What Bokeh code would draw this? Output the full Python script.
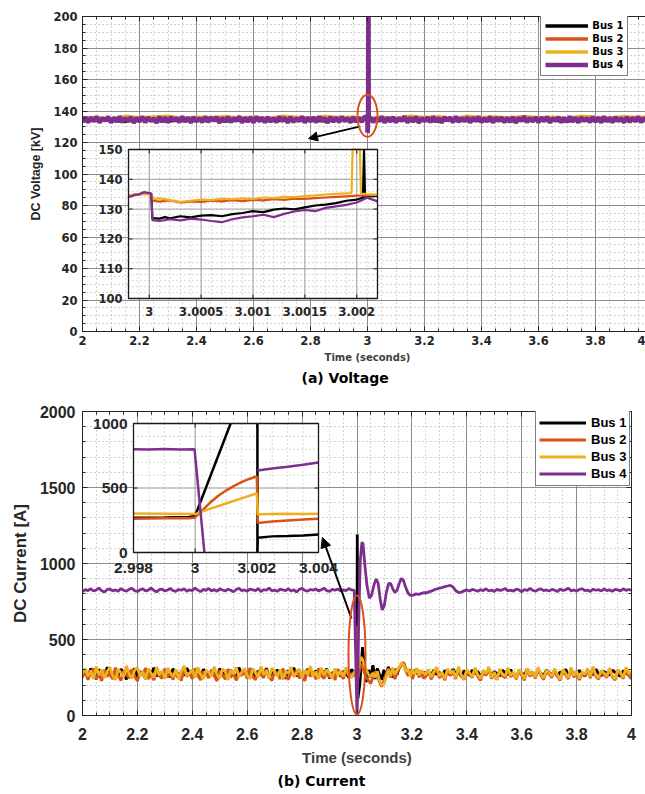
import numpy as np
from bokeh.plotting import figure
from bokeh.layouts import column
from bokeh.models import (Range1d, LinearAxis, Legend, LegendItem, Arrow, NormalHead, Title,
                          SingleIntervalTicker, CustomJSTickFormatter)
from bokeh.core.properties import value
from bokeh.embed import file_html
from bokeh.resources import INLINE

NAN = float("nan")
COLORS = ["#000000", "#D95319", "#EDB120", "#7E2F8E"]
BUS = ["Bus 1", "Bus 2", "Bus 3", "Bus 4"]

# ===================== (a) DC voltage [kV], main view =====================
va_pre_span = (2.00, 2.99)
va_post_span = (3.01, 4.00)
va4_pre = [133.0, 136.2, 132.8, 135.9, 133.4, 136.4, 132.6, 135.5, 133.9, 136.3,
           132.7, 135.8, 133.2, 136.5, 132.9, 135.6, 133.6, 136.1, 132.5, 135.7,
           133.3, 136.4, 132.8, 136.0, 133.5, 135.4, 132.6, 136.3, 133.1, 135.9,
           132.7, 136.2, 133.8, 135.6, 132.9, 136.5, 133.2, 135.8, 132.6, 136.1,
           133.4, 135.5, 132.8, 136.4, 133.0, 135.9, 133.7, 136.2, 132.5, 135.7,
           133.3, 136.3, 132.9, 135.6, 133.6, 136.5, 132.7, 135.8, 133.1, 136.0,
           132.6, 136.4, 133.5, 135.7, 132.8, 136.1, 133.2, 135.5, 132.9, 136.3,
           133.8, 135.9, 132.6, 136.2, 133.0, 135.6, 133.4, 136.5, 132.7, 135.8,
           133.3, 136.0, 132.8, 136.4, 133.6, 135.7, 132.5, 136.2, 133.1, 135.9,
           132.9, 136.3, 133.5, 135.5, 132.7, 136.1, 133.2, 135.8, 133.0, 136.4]
va4_ev_t = [2.9999, 3.00003, 3.0005, 3.001, 3.0015, 3.002, 3.003, 3.0045, 3.006]
va4_ev = [135.7, 126.3, 126.5, 127.6, 129.7, 132.2, 260.0, 133.5, 134.6]
va4_post = [136.1, 132.9, 135.7, 133.4, 136.4, 132.6, 135.9, 133.2, 136.2, 132.8,
            135.5, 133.7, 136.5, 132.7, 135.8, 133.1, 136.3, 132.5, 135.6, 133.5,
            136.0, 132.9, 136.4, 133.3, 135.7, 132.6, 136.2, 133.8, 135.9, 132.8,
            136.5, 133.0, 135.6, 133.4, 136.1, 132.7, 135.8, 133.6, 136.3, 132.9,
            135.5, 133.2, 136.4, 132.6, 135.9, 133.5, 136.0, 132.8, 135.7, 133.1,
            136.2, 132.5, 135.8, 133.7, 136.5, 132.9, 135.6, 133.3, 136.1, 132.7,
            135.9, 133.4, 136.3, 132.6, 135.5, 133.8, 136.2, 132.8, 135.7, 133.0,
            136.4, 133.2, 135.8, 132.7, 136.0, 133.6, 135.6, 132.9, 136.3, 133.1,
            135.9, 132.6, 136.5, 133.4, 135.7, 132.8, 136.1, 133.5, 135.5, 132.7,
            136.2, 133.0, 135.8, 133.3, 136.4, 132.9, 135.6, 133.2, 136.0, 133.4]

vac_pre_span = (2.00, 2.95)
vac_post_span = (3.05, 4.00)
va1_pre = [133.8, 134.6, 134.1, 133.5, 134.9, 134.2, 133.7, 134.5, 134.0, 134.8,
           133.6, 134.3, 135.0, 134.1, 133.9, 134.6, 134.2, 133.8, 134.7, 134.3]
va1_ev_t = [2.9999, 3.00003, 3.001, 3.002, 3.00207, 3.0022, 3.01]
va1_ev = [135.2, 127.0, 129.3, 133.2, 150.0, 134.4, 134.2]
va1_post = [134.4, 133.9, 134.7, 134.1, 133.6, 134.8, 134.2, 134.0, 134.6, 133.8,
            134.3, 134.9, 134.1, 133.7, 134.5, 134.2, 133.9, 134.7, 134.3, 134.0]
va2_pre = [134.6, 135.2, 134.3, 135.5, 134.8, 134.1, 135.3, 134.7, 135.6, 134.4,
           135.0, 134.6, 135.4, 134.2, 135.1, 134.9, 135.7, 134.5, 135.0, 134.8]
va2_ev_t = [2.9999, 3.00004, 3.001, 3.002, 3.0022, 3.01]
va2_ev = [135.1, 132.8, 133.1, 134.5, 134.8, 134.7]
va2_post = [135.2, 134.6, 135.5, 134.3, 135.0, 134.8, 135.6, 134.4, 135.1, 134.7,
            135.4, 134.5, 135.2, 134.9, 135.7, 134.3, 135.0, 134.6, 135.3, 134.8]
va3_pre = [135.4, 136.0, 135.0, 136.6, 135.7, 136.2, 136.7, 135.3, 136.1, 135.8,
           136.4, 135.5, 136.2, 135.2, 136.6, 136.0, 135.6, 136.5, 135.9, 136.1]
va3_ev_t = [2.9999, 3.00004, 3.001, 3.00196, 3.00203, 3.0022, 3.01]
va3_ev = [135.2, 133.4, 133.4, 150.0, 150.0, 134.8, 135.0]
va3_post = [136.1, 135.4, 136.6, 135.8, 136.3, 135.1, 136.7, 135.9, 136.2, 135.5,
            136.5, 135.7, 136.1, 135.3, 136.6, 136.0, 135.6, 136.4, 135.8, 136.2]

# ===================== (a) inset: zoom 2.9998 .. 3.0022 s =====================
ia_x_range = (2.9998, 3.0022)
ia_y_range = (100, 150)
ia_xticks = [3.0, 3.0005, 3.001, 3.0015, 3.002]
ia_xlabels = ["3", "3.0005", "3.001", "3.0015", "3.002"]
ia_yticks = [100, 110, 120, 130, 140, 150]
ia_ylabels = ["100", "110", "120", "130", "140", "150"]
ia1_t = [2.9998, 2.99985, 2.9999, 2.99995, 3.00002, 3.00003, 3.0001, 3.00015, 3.0002,
         3.0003, 3.0004, 3.0005, 3.0006, 3.0007, 3.0008, 3.0009, 3.001, 3.0011, 3.0012,
         3.0013, 3.0014, 3.0015, 3.0016, 3.0017, 3.0018, 3.0019, 3.002,
         3.00206, 3.00207, 3.00208, 3.0021, 3.0022]
ia1_v = [134.4, 134.8, 135.0, 135.2, 135.1, 127.0, 126.8, 127.3, 126.9,
         127.6, 127.2, 127.8, 128.0, 127.6, 128.3, 128.7, 129.3, 129.0, 129.8,
         130.2, 129.9, 130.6, 131.2, 131.5, 132.0, 132.8, 133.2,
         133.8, 150.0, 134.0, 134.2, 134.4]
ia2_t = [2.9998, 2.9999, 2.99995, 3.00002, 3.00004, 3.0001, 3.0002, 3.0003, 3.0004,
         3.0005, 3.0006, 3.0007, 3.0008, 3.0009, 3.001, 3.0011, 3.0012, 3.0013, 3.0014,
         3.0015, 3.0016, 3.0017, 3.0018, 3.0019, 3.002, 3.0021, 3.0022]
ia2_v = [134.5, 134.9, 135.1, 135.0, 132.8, 132.5, 132.9, 132.2, 132.6,
         132.4, 132.8, 132.6, 133.0, 132.7, 133.1, 132.9, 133.3, 133.1, 133.5,
         133.4, 133.7, 133.9, 134.1, 134.3, 134.5, 134.6, 134.8]
ia3_t = [2.9998, 2.9999, 2.99995, 3.00002, 3.00004, 3.0001, 3.0002, 3.0003, 3.0004,
         3.0005, 3.0006, 3.0007, 3.0008, 3.0009, 3.001, 3.0011, 3.0012, 3.0013, 3.0014,
         3.0015, 3.0016, 3.0017, 3.0018, 3.0019, 3.00195, 3.00196, 3.00203, 3.00204,
         3.0021, 3.0022]
ia3_v = [134.6, 135.0, 135.2, 135.1, 133.4, 133.6, 133.0, 132.4, 132.8,
         133.2, 133.0, 133.5, 133.3, 133.6, 133.4, 133.9, 133.7, 134.1, 134.0,
         134.4, 134.6, 134.9, 135.1, 135.3, 135.4, 150.0, 150.0, 135.2,
         135.0, 134.8]
ia4_t = [2.9998, 2.99985, 2.9999, 2.99995, 3.00002, 3.00003, 3.0001, 3.0002, 3.0003,
         3.0004, 3.0005, 3.0006, 3.0007, 3.0008, 3.0009, 3.001, 3.0011, 3.0012, 3.0013,
         3.0014, 3.0015, 3.0016, 3.0017, 3.0018, 3.0019, 3.002, 3.0021, 3.0022]
ia4_v = [134.0, 134.6, 135.0, 135.7, 135.2, 126.3, 126.0, 126.6, 126.2,
         126.8, 126.5, 126.0, 125.6, 126.6, 127.2, 127.6, 128.1, 127.3, 128.4,
         129.2, 129.7, 129.3, 130.4, 130.9, 131.4, 132.2, 133.8, 132.6]

# ===================== (b) DC current [A], main view =====================
cb_pre_span = (2.00, 2.99)
cb_post_span = (3.25, 4.00)
cb4_pre = [815, 828, 822, 834, 819, 826, 838, 821, 813, 829,
           832, 820, 826, 817, 835, 824, 818, 830, 837, 822,
           816, 827, 833, 820, 825, 839, 823, 814, 828, 831,
           819, 826, 836, 821, 817, 829, 824, 834, 818, 827,
           822, 838, 825, 815, 830, 823, 836, 820, 828, 817,
           833, 826, 819, 831, 824, 814, 829, 837, 822, 826,
           818, 832, 827, 821, 835, 816, 828, 824, 839, 820,
           825, 817, 831, 826, 822, 834, 819, 827, 813, 830,
           836, 823, 818, 829, 825, 832, 820, 827, 838, 821,
           816, 830, 824, 833, 819, 827, 822, 835, 826, 824]
cb4_ev_t = [3.000, 3.002, 3.006, 3.012, 3.018, 3.022, 3.028, 3.036, 3.045, 3.053,
            3.062, 3.070, 3.077, 3.085, 3.092, 3.099, 3.107, 3.115, 3.122, 3.130,
            3.138, 3.146, 3.154, 3.162, 3.169, 3.177, 3.186, 3.195, 3.205, 3.215,
            3.225, 3.235, 3.245]
cb4_ev = [0, 120, 600, 1020, 1140, 1130, 1000, 860, 772, 790,
          860, 898, 870, 760, 695, 720, 810, 868, 870, 835,
          808, 825, 870, 902, 890, 845, 805, 790, 792, 800,
          797, 803, 808]
cb4_post = [805, 812, 818, 826, 832, 838, 842, 848, 852, 856,
            845, 822, 808, 812, 820, 826, 819, 830, 824, 817,
            828, 821, 834, 819, 826, 816, 830, 823, 827, 835,
            820, 825, 818, 831, 826, 814, 829, 822, 836, 824,
            817, 828, 833, 821, 826, 819, 830, 825, 815, 832,
            823, 827, 838, 820, 826, 818, 829, 834, 821, 825,
            816, 831, 824, 828, 819, 833, 822, 827, 817, 830,
            826, 820, 834, 823, 829, 824]

cb1_pre = [260, 295, 248, 310, 272, 240, 302, 285, 255, 318,
           270, 245, 298, 262, 305, 280, 238, 292, 268, 310,
           250, 288, 275, 242, 300, 265, 315, 258, 283, 246,
           296, 270, 254, 308, 276, 244, 290, 263, 312, 279,
           251, 298, 266, 241, 304, 284, 259, 293, 271, 247,
           309, 262, 287, 254, 299, 276, 243, 316, 268, 290,
           257, 282, 305, 249, 294, 272, 261, 311, 246, 286,
           269, 301, 255, 280, 243, 297, 274, 314, 258, 289,
           266, 248, 306, 279, 261, 295, 252, 287, 273, 308,
           245, 284, 267, 300, 256, 291, 276, 250, 303, 280]
cb1_ev_t = [3.000, 3.001, 3.003, 3.010, 3.020, 3.027, 3.034, 3.042, 3.050, 3.058,
            3.066, 3.074, 3.082, 3.090, 3.098, 3.106, 3.114, 3.122, 3.130, 3.138,
            3.146, 3.154, 3.162, 3.170, 3.178, 3.186, 3.194, 3.202, 3.210, 3.218,
            3.226, 3.234, 3.242]
cb1_ev = [280, 1190, 110, 200, 450, 330, 220, 300, 250, 330,
          240, 310, 270, 235, 300, 260, 320, 280, 250, 305,
          270, 315, 330, 345, 300, 270, 295, 255, 300, 275,
          290, 265, 285]
cb1_post = [275, 290, 262, 301, 270, 285, 258, 296, 279, 267,
            305, 272, 288, 256, 294, 281, 264, 299, 276, 290,
            260, 284, 271, 303, 266, 289, 277, 259, 297, 282,
            268, 301, 274, 255, 292, 280, 266, 306, 271, 287,
            258, 295, 278, 263, 300, 284, 269, 291, 257, 286,
            275, 304, 262, 289, 280, 266, 298, 273, 259, 293,
            282, 268, 305, 276, 261, 290, 279, 266, 299, 284,
            271, 258, 294, 281, 267, 288]

cb23_ev_t = [3.000, 3.002, 3.0022, 3.008, 3.014, 3.020, 3.027, 3.034, 3.042, 3.050,
             3.058, 3.066, 3.074, 3.082, 3.090, 3.098, 3.106, 3.114, 3.122, 3.130,
             3.138, 3.146, 3.154, 3.162, 3.170, 3.178, 3.186, 3.194, 3.202, 3.210,
             3.218, 3.226, 3.234, 3.242]
cb2_pre = [250, 292, 235, 278, 310, 242, 268, 228, 300, 255,
           284, 238, 315, 262, 230, 296, 270, 245, 305, 258,
           226, 288, 266, 312, 240, 275, 232, 298, 260, 244,
           308, 252, 282, 236, 294, 268, 229, 303, 256, 280,
           241, 310, 264, 233, 290, 272, 247, 301, 259, 227,
           295, 266, 238, 306, 250, 284, 231, 276, 262, 299,
           243, 313, 257, 235, 287, 269, 248, 304, 254, 230,
           292, 275, 240, 309, 261, 236, 285, 266, 298, 245,
           270, 228, 301, 256, 289, 238, 311, 263, 244, 294,
           251, 280, 234, 306, 267, 242, 297, 258, 276, 262]
cb2_ev = [265, 590, 230, 290, 340, 320, 280, 250, 230, 210,
          250, 290, 260, 220, 190, 230, 270, 310, 250, 290,
          240, 280, 310, 335, 350, 300, 260, 305, 240, 285,
          310, 250, 295, 245]
cb2_post = [255, 290, 238, 276, 305, 247, 270, 232, 298, 262,
            284, 240, 310, 258, 236, 292, 268, 249, 302, 256,
            230, 286, 264, 307, 243, 274, 235, 296, 261, 248,
            303, 253, 280, 239, 291, 266, 232, 300, 257, 278,
            244, 306, 263, 236, 288, 271, 250, 299, 259, 231,
            293, 267, 241, 304, 252, 282, 234, 277, 260, 297,
            246, 309, 256, 238, 285, 268, 249, 301, 255, 233,
            290, 273, 242, 305, 262, 240]
cb3_pre = [275, 310, 258, 296, 240, 322, 268, 301, 247, 289,
           318, 262, 236, 305, 280, 252, 327, 271, 244, 298,
           315, 259, 286, 238, 309, 276, 250, 320, 265, 293,
           242, 312, 281, 255, 303, 237, 290, 326, 261, 278,
           300, 249, 316, 272, 239, 295, 283, 257, 321, 266,
           246, 308, 288, 234, 299, 274, 318, 254, 285, 311,
           263, 241, 306, 279, 251, 324, 268, 296, 245, 313,
           287, 258, 302, 236, 292, 276, 319, 253, 281, 307,
           248, 297, 270, 325, 256, 288, 240, 314, 266, 301,
           279, 243, 310, 262, 293, 257, 317, 272, 248, 285]
cb3_ev = [300, 460, 300, 340, 385, 370, 330, 300, 270, 255,
          280, 250, 290, 230, 200, 205, 250, 300, 260, 315,
          270, 300, 320, 345, 330, 290, 305, 260, 300, 270,
          310, 265, 295, 280]
cb3_post = [270, 305, 252, 291, 318, 260, 283, 240, 309, 275,
            296, 248, 322, 266, 238, 301, 280, 255, 314, 269,
            243, 297, 276, 320, 250, 286, 236, 307, 271, 259,
            315, 262, 290, 245, 303, 278, 240, 311, 266, 288,
            252, 318, 274, 246, 299, 283, 258, 308, 269, 237,
            304, 277, 249, 316, 261, 292, 243, 287, 272, 310,
            255, 321, 265, 247, 296, 280, 258, 312, 264, 241,
            302, 284, 250, 317, 273, 289]

# ===================== (b) inset: zoom 2.998 .. 3.004 s =====================
ib_x_range = (2.998, 3.004)
ib_y_range = (0, 1000)
ib_xticks = [2.998, 3.0, 3.002, 3.004]
ib_xlabels = ["2.998", "3", "3.002", "3.004"]
ib_yticks = [0, 500, 1000]
ib_ylabels = ["0", "500", "1000"]
ib1_t = [2.998, 2.999, 2.9998, 3.0, 3.00115, NAN, 3.00202, 3.00202, 3.00203, 3.0025, 3.003, 3.0035, 3.004]
ib1_v = [270, 272, 275, 285, 1000, NAN, 1000, 0, 115, 125, 128, 132, 140]
ib2_t = [2.998, 2.999, 2.9998, 3.0, 3.00025, 3.0005, 3.00075, 3.001, 3.00125, 3.0015, 3.00175,
         3.002, 3.00203, 3.0025, 3.003, 3.0035, 3.004]
ib2_v = [262, 265, 266, 272, 330, 390, 440, 480, 515, 545, 570, 590, 228, 240, 248, 255, 262]
ib3_t = [2.998, 2.999, 3.0, 3.0005, 3.001, 3.0015, 3.002, 3.00203, 3.0025, 3.003, 3.0035, 3.004]
ib3_v = [302, 300, 298, 340, 380, 420, 458, 296, 298, 300, 299, 300]
ib4_t = [2.998, 2.9985, 2.999, 2.9995, 2.99998, 3.0003, NAN, 3.00202, 3.0025, 3.003, 3.0035, 3.004]
ib4_v = [800, 798, 802, 799, 800, 0, NAN, 636, 652, 665, 680, 698]

# ===================== annotation marks (zoom ellipse + arrow) =====================
A_ELLIPSE = dict(x=3.0, y=137.0, w=20, h=42)
A_ARROW = dict(x0=2.975, y0=130.2, x1=2.793, y1=122.5)
B_ELLIPSE = dict(x=3.0, y=398.0, w=17, h=119)
B_ARROW = dict(x0=2.980, y0=638.0, x1=2.874, y1=1171.0)

TXT = "#262626"
FMT = "return String(Math.round(tick*10000)/10000);"


def join(pre, pre_span, ev_t, ev_v, post, post_span):
    t = np.concatenate([np.linspace(pre_span[0], pre_span[1], len(pre)), ev_t,
                        np.linspace(post_span[0], post_span[1], len(post))])
    v = np.concatenate([pre, ev_v, post])
    return t, v


def inset_range(lo, hi, f0, f1):
    span = (hi - lo) / (f1 - f0)
    start = lo - f0 * span
    return Range1d(start, start + span)


def make_fig(fw, fh, xr, yr, borders, xt, yt, tick_font, tick_size):
    l, r, t, b = borders
    p = figure(frame_width=fw, frame_height=fh, x_range=Range1d(*xr), y_range=Range1d(*yr),
               min_border_left=l, min_border_right=r, min_border_top=t, min_border_bottom=b,
               output_backend="svg", toolbar_location=None)
    xa = p.below[0]
    ya = p.left[0]
    xtk = SingleIntervalTicker(interval=xt[0], num_minor_ticks=xt[1])
    ytk = SingleIntervalTicker(interval=yt[0], num_minor_ticks=yt[1])
    xa.ticker = xtk
    ya.ticker = ytk
    p.xgrid.ticker = xtk
    p.ygrid.ticker = ytk
    xa.formatter = CustomJSTickFormatter(code=FMT)
    ya.formatter = CustomJSTickFormatter(code=FMT)
    p.add_layout(LinearAxis(ticker=ytk, formatter=CustomJSTickFormatter(code="return '';")), "right")
    p.add_layout(LinearAxis(ticker=xtk, formatter=CustomJSTickFormatter(code="return '';")), "above")
    for ax in p.axis:
        ax.major_tick_in = 5
        ax.major_tick_out = 0
        ax.minor_tick_in = 3
        ax.minor_tick_out = 0
        ax.axis_line_color = TXT
        ax.major_tick_line_color = TXT
        ax.minor_tick_line_color = TXT
        ax.major_label_text_font = tick_font
        ax.major_label_text_font_style = "bold"
        ax.major_label_text_font_size = tick_size
        ax.major_label_text_color = TXT
    p.outline_line_color = None
    p.grid.grid_line_color = "#8c8c8c"
    p.grid.grid_line_width = 1
    p.grid.minor_grid_line_color = "#a8a8a8"
    p.grid.minor_grid_line_dash = "1 3"
    p.background_fill_color = "white"
    p.border_fill_color = "white"
    return p, xa, ya


def draw_inset(p, xr, yr, xmaj, ymaj, xmin_step, ymin_step, xticks, xlabels, yticks, ylabels,
               font, size, xlab_off, ylab_off, series, lw, box_px):
    kw = dict(x_range_name="inx", y_range_name="iny", level="overlay")
    p.quad(left=[xr[0]], right=[xr[1]], bottom=[yr[0]], top=[yr[1]], fill_color="white",
           line_color=None, **kw)
    xm = np.arange(xr[0], xr[1] + xmin_step / 2, xmin_step)
    ym = np.arange(yr[0], yr[1] + ymin_step / 2, ymin_step)
    p.segment(x0=xm, y0=yr[0], x1=xm, y1=yr[1], line_color="#b4b4b4", line_dash="1 3", **kw)
    p.segment(x0=xr[0], y0=ym, x1=xr[1], y1=ym, line_color="#b4b4b4", line_dash="1 3", **kw)
    p.segment(x0=xmaj, y0=yr[0], x1=xmaj, y1=yr[1], line_color="#a0a0a0", line_width=1, **kw)
    p.segment(x0=xr[0], y0=ymaj, x1=xr[1], y1=ymaj, line_color="#a0a0a0", line_width=1, **kw)
    # short inward tick marks on the inset box (4 px)
    tx = 4 * (xr[1] - xr[0]) / box_px[0]
    ty = 4 * (yr[1] - yr[0]) / box_px[1]
    p.segment(x0=xticks, y0=yr[0], x1=xticks, y1=yr[0] + ty, line_color="#1a1a1a", **kw)
    p.segment(x0=xticks, y0=yr[1], x1=xticks, y1=yr[1] - ty, line_color="#1a1a1a", **kw)
    p.segment(x0=xr[0], y0=yticks, x1=xr[0] + tx, y1=yticks, line_color="#1a1a1a", **kw)
    p.segment(x0=xr[1], y0=yticks, x1=xr[1] - tx, y1=yticks, line_color="#1a1a1a", **kw)
    for (t, v), c in zip(series, COLORS):
        p.line(t, v, line_color=c, line_width=lw, **kw)
    p.quad(left=[xr[0]], right=[xr[1]], bottom=[yr[0]], top=[yr[1]], fill_color=None,
           line_color="#1a1a1a", line_width=1.3, **kw)
    p.text(x=xticks, y=[yr[0]] * len(xticks), text=xlabels, text_font=value(font),
           text_font_style="bold", text_font_size=size, text_color=TXT, text_align="center",
           text_baseline="top", y_offset=xlab_off, **kw)
    p.text(x=[xr[0]] * len(yticks), y=yticks, text=ylabels, text_font=value(font),
           text_font_style="bold", text_font_size=size, text_color=TXT, text_align="right",
           text_baseline="middle", x_offset=ylab_off, **kw)


# ------------------------------ figure (a) ------------------------------
pa, pa_x, pa_y = make_fig(570, 315, (2, 4), (0, 200), (62, 13, 16, 61), (0.2, 4), (20, 4),
                          "DejaVu Sans", "11.5px")
pa_x.axis_label = "Time (seconds)"
pa_x.axis_label_text_font = "DejaVu Sans"
pa_x.axis_label_text_font_size = "10px"
pa_x.axis_label_text_font_style = "bold"
pa_x.axis_label_text_color = "#404040"
pa_x.major_label_standoff = 4
pa_x.axis_label_standoff = 4
pa_y.axis_label = "DC Voltage [kV]"
pa_y.axis_label_text_font = "Liberation Sans"
pa_y.axis_label_text_font_size = "12.5px"
pa_y.axis_label_text_font_style = "bold"
pa_y.axis_label_text_color = TXT
pa_y.major_label_standoff = 5
pa_y.axis_label_standoff = 7

ra = []
for pre, evt, ev, post, c in [(va1_pre, va1_ev_t, va1_ev, va1_post, COLORS[0]),
                              (va2_pre, va2_ev_t, va2_ev, va2_post, COLORS[1]),
                              (va3_pre, va3_ev_t, va3_ev, va3_post, COLORS[2])]:
    t, v = join(pre, vac_pre_span, evt, ev, post, vac_post_span)
    ra.append(pa.line(t, v, line_color=c, line_width=3.5))
t4, v4 = join(va4_pre, va_pre_span, va4_ev_t, va4_ev, va4_post, va_post_span)
ra.append(pa.line(t4, v4, line_color=COLORS[3], line_width=4.5))

pa.extra_x_ranges = {"inx": inset_range(*ia_x_range, 46 / 570, 295 / 570)}
pa.extra_y_ranges = {"iny": inset_range(*ia_y_range, 33 / 315, 182 / 315)}
draw_inset(pa, ia_x_range, ia_y_range, ia_xticks, ia_yticks[1:-1], 0.0001, 2,
           ia_xticks, ia_xlabels, ia_yticks, ia_ylabels, "DejaVu Sans", "11.5px", 8, -6,
           [(ia1_t, ia1_v), (ia2_t, ia2_v), (ia3_t, ia3_v), (ia4_t, ia4_v)], 2.2, (249, 149))

pa.ellipse(x=[A_ELLIPSE["x"]], y=[A_ELLIPSE["y"]], width=A_ELLIPSE["w"], height=A_ELLIPSE["h"],
           width_units="screen", height_units="screen", fill_color=None,
           line_color=COLORS[1], line_width=2, level="overlay")
pa.add_layout(Arrow(end=NormalHead(size=9, fill_color="black", line_color="black"),
                    x_start=A_ARROW["x0"], y_start=A_ARROW["y0"],
                    x_end=A_ARROW["x1"], y_end=A_ARROW["y1"], line_color="black", line_width=1.8))

leg_a = Legend(items=[LegendItem(label=n, renderers=[r]) for n, r in zip(BUS, ra)],
               location=(478, 255), label_text_font="DejaVu Sans", label_text_font_style="bold",
               label_text_font_size="10px", label_text_color="black", glyph_width=43,
               glyph_height=13, label_height=13, label_standoff=4, spacing=0, padding=4,
               margin=0, border_line_color="black", border_line_width=1.5,
               background_fill_alpha=1.0)
pa.add_layout(leg_a)
pa.add_layout(Title(text="(a) Voltage", align="left", offset=219, text_font="DejaVu Sans",
                    text_font_size="14px", text_font_style="bold", text_color="black",
                    standoff=4), "below")

# ------------------------------ figure (b) ------------------------------
pb, pb_x, pb_y = make_fig(549, 304, (2, 4), (0, 2000), (82, 14, 19, 79), (0.2, 4), (500, 5),
                          "Liberation Sans", "16px")
pb_x.axis_label = "Time (seconds)"
pb_x.axis_label_text_font = "Liberation Sans"
pb_x.axis_label_text_font_size = "15px"
pb_x.axis_label_text_font_style = "bold"
pb_x.axis_label_text_color = "#404040"
pb_x.major_label_standoff = 12
pb_x.axis_label_standoff = 6
pb_y.axis_label = "DC Current [A]"
pb_y.axis_label_text_font = "Liberation Sans"
pb_y.axis_label_text_font_size = "17px"
pb_y.axis_label_text_font_style = "bold"
pb_y.axis_label_text_color = TXT
pb_y.major_label_standoff = 7
pb_y.axis_label_standoff = 7

rb = []
for pre, evt, ev, post, c in [(cb1_pre, cb1_ev_t, cb1_ev, cb1_post, COLORS[0]),
                              (cb2_pre, cb23_ev_t, cb2_ev, cb2_post, COLORS[1]),
                              (cb3_pre, cb23_ev_t, cb3_ev, cb3_post, COLORS[2]),
                              (cb4_pre, cb4_ev_t, cb4_ev, cb4_post, COLORS[3])]:
    t, v = join(pre, cb_pre_span, evt, ev, post, cb_post_span)
    rb.append(pb.line(t, v, line_color=c, line_width=2.8))

pb.extra_x_ranges = {"inx": inset_range(*ib_x_range, 51 / 549, 236 / 549)}
pb.extra_y_ranges = {"iny": inset_range(*ib_y_range, 163 / 304, 292 / 304)}
draw_inset(pb, ib_x_range, ib_y_range, [3.0, 3.002], [500], 0.0005, 100,
           ib_xticks, ib_xlabels, ib_yticks, ib_ylabels, "Liberation Sans", "15.5px", 10, -6,
           [(ib1_t, ib1_v), (ib2_t, ib2_v), (ib3_t, ib3_v), (ib4_t, ib4_v)], 2.5, (185, 129))

pb.ellipse(x=[B_ELLIPSE["x"]], y=[B_ELLIPSE["y"]], width=B_ELLIPSE["w"], height=B_ELLIPSE["h"],
           width_units="screen", height_units="screen", fill_color=None,
           line_color=COLORS[1], line_width=2, level="overlay")
pb.add_layout(Arrow(end=NormalHead(size=10, fill_color="black", line_color="black"),
                    x_start=B_ARROW["x0"], y_start=B_ARROW["y0"],
                    x_end=B_ARROW["x1"], y_end=B_ARROW["y1"], line_color="black", line_width=2))

leg_b = Legend(items=[LegendItem(label=n, renderers=[r]) for n, r in zip(BUS, rb)],
               location=(453, 229), label_text_font="Liberation Sans", label_text_font_style="bold",
               label_text_font_size="13px", label_text_color="black", glyph_width=47,
               glyph_height=17, label_height=17, label_standoff=5, spacing=0, padding=3,
               margin=0, border_line_color="black", border_line_width=1.5,
               background_fill_alpha=1.0)
pb.add_layout(leg_b)
pb.add_layout(Title(text="(b) Current", align="left", offset=195, text_font="DejaVu Sans",
                    text_font_size="14px", text_font_style="bold", text_color="black",
                    standoff=4), "below")

layout = column(pa, pb, spacing=0)
open("out.html", "w").write(file_html(layout, INLINE))
